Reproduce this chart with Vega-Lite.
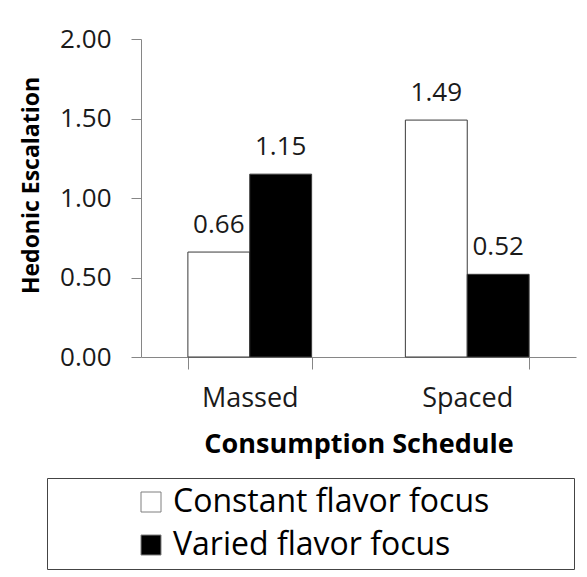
{
  "$schema": "https://vega.github.io/schema/vega-lite/v6.json",
  "width": 435,
  "height": 318,
  "autosize": {"type": "none"},
  "padding": {"left": 141, "top": 39, "right": 11, "bottom": 220},
  "background": "white",
  "config": {
    "view": {"stroke": null},
    "font": "Open Sans",
    "axis": {
      "domainColor": "#868686",
      "tickColor": "#868686",
      "grid": false,
      "labelColor": "#1a1a1a",
      "titleColor": "#000000",
      "labelFont": "Open Sans",
      "titleFont": "Open Sans"
    }
  },
  "data": {
    "values": [
      {"schedule": "Massed", "focus": "Constant flavor focus", "escalation": 0.66},
      {"schedule": "Massed", "focus": "Varied flavor focus", "escalation": 1.15},
      {"schedule": "Spaced", "focus": "Constant flavor focus", "escalation": 1.49},
      {"schedule": "Spaced", "focus": "Varied flavor focus", "escalation": 0.52}
    ]
  },
  "encoding": {
    "x": {
      "field": "schedule",
      "type": "nominal",
      "sort": ["Massed", "Spaced"],
      "scale": {"paddingInner": 0.431, "paddingOuter": 0.2156},
      "axis": {
        "title": "Consumption Schedule",
        "labelAngle": 0,
        "tickBand": "extent",
        "tickSize": 12,
        "labelFontSize": 27,
        "labelPadding": 16,
        "titleFontSize": 27,
        "titleFontWeight": "bold",
        "titlePadding": 20
      }
    },
    "xOffset": {
      "field": "focus",
      "type": "nominal",
      "sort": ["Constant flavor focus", "Varied flavor focus"],
      "scale": {"paddingInner": 0, "paddingOuter": 0}
    },
    "y": {
      "field": "escalation",
      "type": "quantitative",
      "scale": {"domain": [0, 2]},
      "axis": {
        "title": "Hedonic Escalation",
        "values": [0, 0.5, 1, 1.5, 2],
        "format": ".2f",
        "tickSize": 10,
        "labelFontSize": 26,
        "labelPadding": 20,
        "titleFontSize": 23,
        "titleFontWeight": "bold",
        "titlePadding": 16,
        "titleY": 146
      }
    }
  },
  "layer": [
    {
      "mark": {"type": "bar", "stroke": "#3a3a3a", "strokeWidth": 1},
      "encoding": {
        "fill": {
          "field": "focus",
          "type": "nominal",
          "sort": ["Constant flavor focus", "Varied flavor focus"],
          "scale": {"range": ["#ffffff", "#000000"]},
          "legend": {
            "title": "\u2800",
            "titleOrient": "right",
            "titleFontSize": 1,
            "titlePadding": 76,
            "orient": "none",
            "direction": "vertical",
            "legendX": -94,
            "legendY": 439,
            "padding": 8,
            "strokeColor": "#444444",
            "symbolType": "square",
            "symbolSize": 400,
            "symbolStrokeColor": "#7f7f7f",
            "symbolStrokeWidth": 1,
            "symbolOffset": 80,
            "labelOffset": 6,
            "labelFontSize": 32,
            "labelColor": "#000000",
            "labelLimit": 600,
            "rowPadding": 11
          }
        }
      }
    },
    {
      "mark": {"type": "text", "baseline": "alphabetic", "dy": -19, "fontSize": 26, "color": "#1a1a1a"},
      "encoding": {
        "text": {"field": "escalation", "type": "quantitative", "format": ".2f"}
      }
    }
  ]
}
